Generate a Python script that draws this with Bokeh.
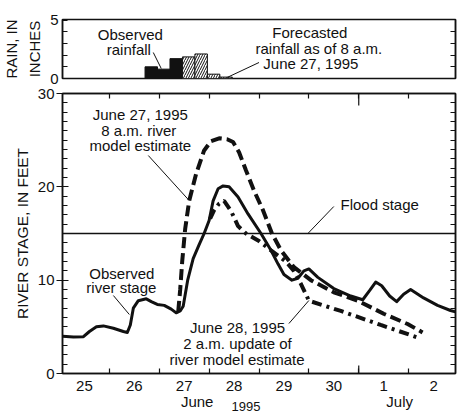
from bokeh.plotting import figure
from bokeh.models import Range1d, LinearAxis, FixedTicker, Label, Span, Title
from bokeh.layouts import column
from bokeh.embed import file_html
from bokeh.resources import INLINE

# ---------------- data ----------------
# x in days: June 25 = 25.0 ... July 1 = 31.0, July 2 = 32.0
obs_rain_x = [26.84, 27.09, 27.34]
obs_rain_in = [1.0, 0.8, 1.7]
fc_rain_x = [27.59, 27.84, 28.09, 28.34]
fc_rain_in = [1.85, 2.1, 0.37, 0.12]
rain_bar_days = 0.25

obs_day = [25.06, 25.28, 25.48, 25.60, 25.74, 25.88, 26.08, 26.28, 26.36, 26.42,
           26.48, 26.58, 26.74, 26.84, 26.96, 27.10, 27.24, 27.34, 27.42, 27.48,
           27.57, 27.68, 27.80, 27.90, 28.00, 28.08, 28.18, 28.28, 28.40, 28.58,
           28.78, 29.04, 29.24, 29.38, 29.50, 29.66, 29.78, 29.90, 30.00, 30.18,
           30.50, 30.84, 31.08, 31.22, 31.34, 31.46, 31.62, 31.76, 31.90, 32.04,
           32.30, 32.58, 32.84, 32.94]
obs_ft = [4.0, 3.9, 3.95, 4.5, 5.0, 5.1, 4.85, 4.5, 4.4, 5.2,
          7.0, 7.8, 8.0, 7.7, 7.4, 7.3, 6.9, 6.5, 6.7, 7.2,
          10.0, 12.3, 13.8, 15.0, 16.4, 18.5, 19.8, 20.1, 20.0, 18.9,
          17.1, 15.0, 13.2, 11.75, 10.6, 10.0, 10.2, 11.0, 11.2, 10.3,
          9.1, 8.3, 7.9, 8.9, 9.8, 9.4, 8.3, 7.7, 8.5, 9.0,
          8.1, 7.3, 6.75, 6.6]

est27_day = [27.38, 27.42, 27.46, 27.52, 27.60, 27.74, 27.90, 28.04, 28.20, 28.36,
             28.48, 28.60, 28.74, 28.90, 29.08, 29.26, 29.44, 29.70, 30.04, 30.50,
             30.98, 31.50, 31.98, 32.28]
est27_ft = [6.6, 9.0, 12.0, 15.5, 18.5, 21.4, 23.9, 24.9, 25.2, 25.1,
            24.8, 23.7, 21.75, 19.6, 17.5, 15.0, 13.2, 11.4, 10.0, 8.7,
            7.8, 6.4, 5.3, 4.4]

est28_day = [28.02, 28.10, 28.20, 28.30, 28.44, 28.58, 28.74, 29.00, 29.24, 29.54,
             29.70, 29.84, 29.94, 30.00, 30.64, 31.44, 32.24]
est28_ft = [16.6, 17.5, 18.2, 18.5, 17.4, 15.8, 15.0, 14.2, 13.2, 12.0,
            11.0, 9.6, 8.5, 7.8, 6.7, 5.2, 3.75]

flood_stage_ft = 15
day_tick_pos = [25.5, 26.5, 27.5, 28.5, 29.5, 30.5, 31.5, 32.5]
day_tick_labels = ["25", "26", "27", "28", "29", "30", "1", "2"]
month_label_pos = [27.76, 31.82]
month_labels = ["June", "July"]
year_label_pos = [28.74]
year_labels = ["1995"]
midnights = [26, 27, 28, 29, 30, 31, 32]
month_start = [31]

FONT = "Liberation Sans"
INK = "#111111"
W = 457
LEFT = 61
RIGHT = 2

# helpers to place annotation text (reference pixel -> data)
def rx(px):
    return 26 + (px - 108) / 50.0

def ry(py):
    return (373 - py) * 30.0 / 280.0

def ryr(py):
    return (78.0 - py) * 5.05 / 59.0

xr = Range1d(25.06, 25.06 + (W - LEFT - RIGHT) / 50.0)

def style(p):
    p.grid.visible = False
    p.outline_line_color = INK
    p.outline_line_width = 1.5
    p.background_fill_color = "white"
    p.border_fill_color = "white"

def tick_axis(ticker, **kw):
    base = dict(axis_line_color=INK, axis_line_width=1.5,
                major_tick_line_color=INK, minor_tick_line_color=INK,
                major_tick_line_width=1.2, minor_tick_line_width=1.2,
                major_label_text_font=FONT, major_label_text_font_size="15px",
                major_label_text_color=INK)
    base.update(kw)
    return LinearAxis(ticker=ticker, **base)

def txt(p, x, y, s, size="15px", **kw):
    p.add_layout(Label(x=x, y=y, text=s, text_font=FONT, text_font_size=size,
                       text_color=INK, text_align="center", text_baseline="middle", **kw))

def side_title(s, offset, standoff, size="15px"):
    return Title(text=s, align="center", offset=offset, standoff=standoff,
                 text_font=FONT, text_font_size=size, text_font_style="normal",
                 text_color=INK)

# ---------------- rain panel ----------------
p1 = figure(width=W, height=85, x_range=xr, y_range=Range1d(0, 5.05),
            output_backend="svg", toolbar_location=None,
            x_axis_location=None, y_axis_location=None,
            min_border_left=LEFT, min_border_right=RIGHT, min_border_top=19, min_border_bottom=7)
style(p1)

p1.add_layout(tick_axis(FixedTicker(ticks=[0, 5], minor_ticks=[1, 2, 3, 4]),
                        major_tick_in=5, major_tick_out=0, minor_tick_in=5, minor_tick_out=0,
                        major_label_standoff=4), "left")
p1.add_layout(side_title("INCHES", 11, 9), "left")
p1.add_layout(side_title("RAIN, IN", 6, 0), "left")
p1.add_layout(tick_axis(FixedTicker(ticks=[], minor_ticks=[1, 2, 3, 4]),
                        major_tick_in=0, major_tick_out=0, minor_tick_in=5, minor_tick_out=0,
                        major_label_standoff=0), "right")

p1.vbar(x=obs_rain_x, top=obs_rain_in, width=rain_bar_days, bottom=0,
        fill_color=INK, line_color=INK, line_width=1)
p1.vbar(x=fc_rain_x, top=fc_rain_in, width=rain_bar_days, bottom=0,
        fill_color="white", line_color=INK, line_width=1,
        hatch_pattern="/", hatch_color=INK, hatch_scale=5, hatch_weight=1)

txt(p1, rx(129), ryr(34), "Observed")
txt(p1, rx(127.5), ryr(49), "rainfall")
p1.segment(x0=[rx(152)], y0=[ryr(52)], x1=[rx(160)], y1=[ryr(68)], line_color=INK, line_width=1)
txt(p1, rx(309), ryr(32), "Forecasted")
txt(p1, rx(318), ryr(48), "rainfall as of 8 a.m.")
txt(p1, rx(310), ryr(63), "June 27, 1995")
p1.segment(x0=[rx(258)], y0=[ryr(62)], x1=[rx(226)], y1=[ryr(77)], line_color=INK, line_width=1)

# ---------------- river stage panel ----------------
p2 = figure(width=W, height=332, x_range=xr, y_range=Range1d(0, 30),
            output_backend="svg", toolbar_location=None,
            x_axis_location=None, y_axis_location=None,
            min_border_left=LEFT, min_border_right=RIGHT, min_border_top=8, min_border_bottom=44)
style(p2)

p2.add_layout(tick_axis(FixedTicker(ticks=[0, 10, 20, 30], minor_ticks=list(range(31))),
                        major_tick_in=6, major_tick_out=6, minor_tick_in=5, minor_tick_out=0,
                        major_label_standoff=2), "left")
p2.add_layout(side_title("RIVER STAGE, IN FEET", 14, 7, size="15.5px"), "left")
p2.add_layout(tick_axis(FixedTicker(ticks=[], minor_ticks=list(range(1, 30))),
                        major_tick_in=0, major_tick_out=0, minor_tick_in=5, minor_tick_out=0,
                        major_label_standoff=0), "right")
p2.add_layout(tick_axis(FixedTicker(ticks=day_tick_pos, minor_ticks=midnights),
                        major_tick_in=0, major_tick_out=0, minor_tick_in=5, minor_tick_out=0,
                        major_label_overrides={p: l for p, l in zip(day_tick_pos, day_tick_labels)},
                        major_label_standoff=7), "below")
p2.add_layout(tick_axis(FixedTicker(ticks=month_label_pos, minor_ticks=[]),
                        axis_line_color=None, major_tick_line_color=None, minor_tick_line_color=None,
                        major_tick_in=0, major_tick_out=0, minor_tick_in=0, minor_tick_out=0,
                        major_label_overrides={p: l for p, l in zip(month_label_pos, month_labels)},
                        major_label_standoff=-1), "below")
p2.add_layout(tick_axis(FixedTicker(ticks=year_label_pos, minor_ticks=[]),
                        axis_line_color=None, major_tick_line_color=None, minor_tick_line_color=None,
                        major_tick_in=0, major_tick_out=0, minor_tick_in=0, minor_tick_out=0,
                        major_label_overrides={p: l for p, l in zip(year_label_pos, year_labels)},
                        major_label_text_font_size="13px",
                        major_label_standoff=-11), "below")
p2.add_layout(tick_axis(FixedTicker(ticks=[], minor_ticks=midnights),
                        major_tick_in=0, major_tick_out=0, minor_tick_in=5, minor_tick_out=0,
                        major_label_standoff=0), "above")

# longer ticks at the start of July (top and bottom)
px_per_ft = 280 / 30.0
p2.segment(x0=month_start, y0=[30] * len(month_start), x1=month_start,
           y1=[30 - 12 / px_per_ft] * len(month_start), line_color=INK, line_width=1.2)
p2.segment(x0=month_start, y0=[0] * len(month_start), x1=month_start,
           y1=[8 / px_per_ft] * len(month_start), line_color=INK, line_width=1.2)

p2.add_layout(Span(location=flood_stage_ft, dimension="width", line_color=INK, line_width=1.5))

p2.line(obs_day, obs_ft, line_color=INK, line_width=3, line_join="round")
p2.line(est27_day, est27_ft, line_color=INK, line_width=4, line_dash="11 5")
p2.line(est28_day, est28_ft, line_color=INK, line_width=4, line_dash="10 5 3 5")

txt(p2, rx(139), ry(114), "June 27, 1995")
txt(p2, rx(137.5), ry(130), "8 a.m. river")
txt(p2, rx(139), ry(145), "model estimate")
txt(p2, rx(120.5), ry(272.5), "Observed")
txt(p2, rx(120), ry(287), "river stage")
txt(p2, rx(379), ry(204), "Flood stage")
txt(p2, rx(236.5), ry(327), "June 28, 1995")
txt(p2, rx(236.5), ry(343), "2 a.m. update of")
txt(p2, rx(236), ry(359), "river model estimate")
p2.segment(x0=[rx(147), rx(112), rx(333), rx(288)],
           y0=[ry(155), ry(295), ry(206), ry(323)],
           x1=[rx(188), rx(128), rx(307), rx(308)],
           y1=[ry(200), ry(314), ry(233), ry(300)],
           line_color=INK, line_width=1)

layout = column(p1, p2)
open("out.html", "w").write(file_html(layout, INLINE))
